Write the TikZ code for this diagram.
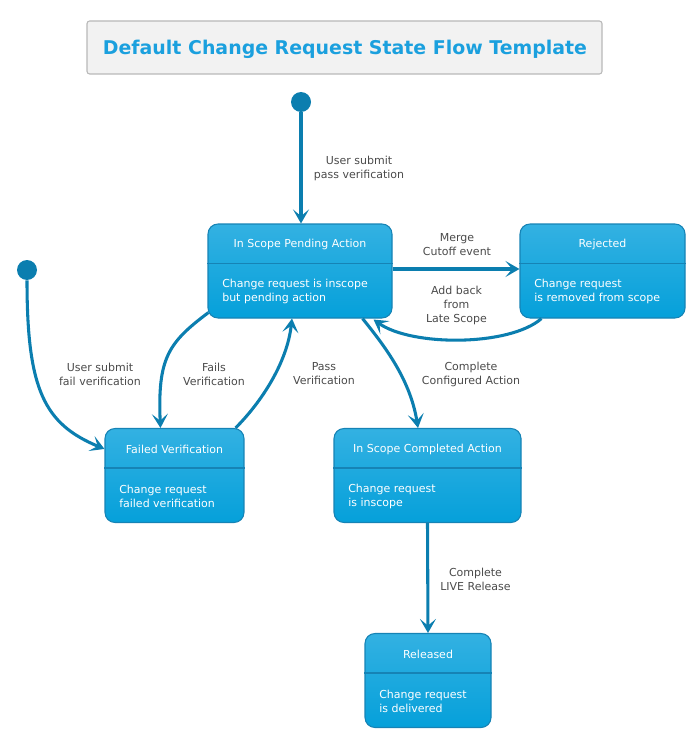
\documentclass[tikz,border=0pt]{standalone}
\usepackage{fontspec}
\setmainfont{DejaVu Sans}
\usetikzlibrary{arrows.meta,calc}
\definecolor{sttop}{HTML}{33B1E2}
\definecolor{stbot}{HTML}{05A0DA}
\definecolor{stborder}{HTML}{1683B5}
\definecolor{arrowc}{HTML}{0B7EAF}
\definecolor{lblc}{HTML}{4A4A4A}
\definecolor{titlec}{HTML}{1BA0DE}
\definecolor{titlefill}{HTML}{F2F2F2}
\definecolor{titleborder}{HTML}{B8B8B8}
\begin{document}
\begin{tikzpicture}[x=0.75pt,y=-0.75pt,
  statebox/.style={draw=stborder, line width=0.8pt, rounded corners=7.5pt,
    top color=sttop, bottom color=stbot, inner sep=0pt, minimum height={94*0.75pt}},
  stitle/.style={text=white, inner sep=0pt, font=\fontsize{8.25}{10}\selectfont},
  sbody/.style={text=white, inner sep=0pt, anchor=west, align=left, font=\fontsize{8.25}{10}\selectfont},
  divline/.style={draw=stborder, line width=0.8pt},
  lbl/.style={text=lblc, inner sep=0pt, align=center, font=\fontsize{8.25}{10.5}\selectfont},
  startdot/.style={circle, fill=arrowc, minimum size={20*0.75pt}, inner sep=0pt},
  flow/.style={draw=arrowc, line width=2.3pt, -{Stealth[length=10.5pt,width=12pt,inset=5pt]}}
]
\useasboundingbox (0,0) rectangle (697,738);
% title
\node[draw=titleborder, fill=titlefill, rounded corners=2pt, line width=0.8pt,
  minimum width={515*0.75pt}, minimum height={53*0.75pt}, inner sep=0pt] (title) at (344.5,47.5) {};
\node[text=titlec, inner sep=0pt, font=\fontsize{14.2}{16}\selectfont\bfseries] (titlet) at (345,49)
  {Default Change Request State Flow Template};
% start points
\node[startdot] (s1) at (301,102) {};
\node[startdot] (s2) at (27,270) {};
% states
\node[statebox, minimum width={184*0.75pt}] (pend) at (300,271) {};
\node[statebox, minimum width={165*0.75pt}] (rej) at (602.5,271) {};
\node[statebox, minimum width={139*0.75pt}] (fail) at (174.5,475.5) {};
\node[statebox, minimum width={187*0.75pt}] (comp) at (427.5,475.5) {};
\node[statebox, minimum width={126*0.75pt}] (rel) at (428,680.5) {};
\foreach \s in {pend,rej,fail,comp,rel}{
  \draw[divline] ($(\s.north west)+(0,40)$) -- ($(\s.north east)+(0,40)$);
}
% state texts
\node[stitle] (pendt) at (300,244) {In Scope Pending Action};
\node[sbody] (pendb) at (222,291.5) {Change request is inscope\\but pending action};
\node[stitle] (rejt) at (602.5,244) {Rejected};
\node[sbody] (rejb) at (534,291.5) {Change request\\is removed from scope};
\node[stitle] (failt) at (174.5,449) {Failed Verification};
\node[sbody] (failb) at (119,496.5) {Change request\\failed verification};
\node[stitle] (compt) at (427.5,449) {In Scope Completed Action};
\node[sbody] (compb) at (348,496.5) {Change request\\is inscope};
\node[stitle] (relt) at (428,654) {Released};
\node[sbody] (relb) at (379,701.5) {Change request\\is delivered};
% connectors
\draw[flow] (s1.south) -- (s1.south |- pend.north);
\draw[flow] (s2.south) .. controls +(0,110) and +(-60,-25) .. ($(fail.north west)+(0,21)$);
\draw[flow] ($(pend.south west)+(1,-6)$) .. controls +(-40,30) and +(-3,-70) .. ($(fail.north west)+(56,0)$);
\draw[flow] ($(fail.north east)+(-9,0)$) .. controls +(25,-25) and +(-5,45) .. ($(pend.south)+(-8,0)$);
\draw[flow] ($(pend.east)+(0,-2)$) -- ($(rej.west)+(0,-2)$);
\draw[flow] ($(rej.south west)+(22,0)$) .. controls +(-32,28) and +(38,27) .. ($(pend.south east)+(-19,1)$);
\draw[flow] ($(pend.south east)+(-30,0)$) .. controls +(20,25) and +(-8,-50) .. ($(comp.north)+(-9.5,0)$);
\draw[flow] (comp.south) -- (rel.north);
% labels
\node[lbl] (l1) at (359,168.5) {User submit\\pass verification};
\node[lbl] (l2) at (100,374) {User submit\\fail verification};
\node[lbl] (l3) at (214,374) {Fails\\Verification};
\node[lbl] (l4) at (324,374) {Pass\\Verification};
\node[lbl] (l5) at (457,244.5) {Merge\\Cutoff event};
\node[lbl] (l6) at (456.5,305.5) {Add back\\from\\Late Scope};
\node[lbl] (l7) at (471,374) {Complete\\Configured Action};
\node[lbl] (l8) at (475.5,579) {Complete\\LIVE Release};
\end{tikzpicture}
\end{document}
